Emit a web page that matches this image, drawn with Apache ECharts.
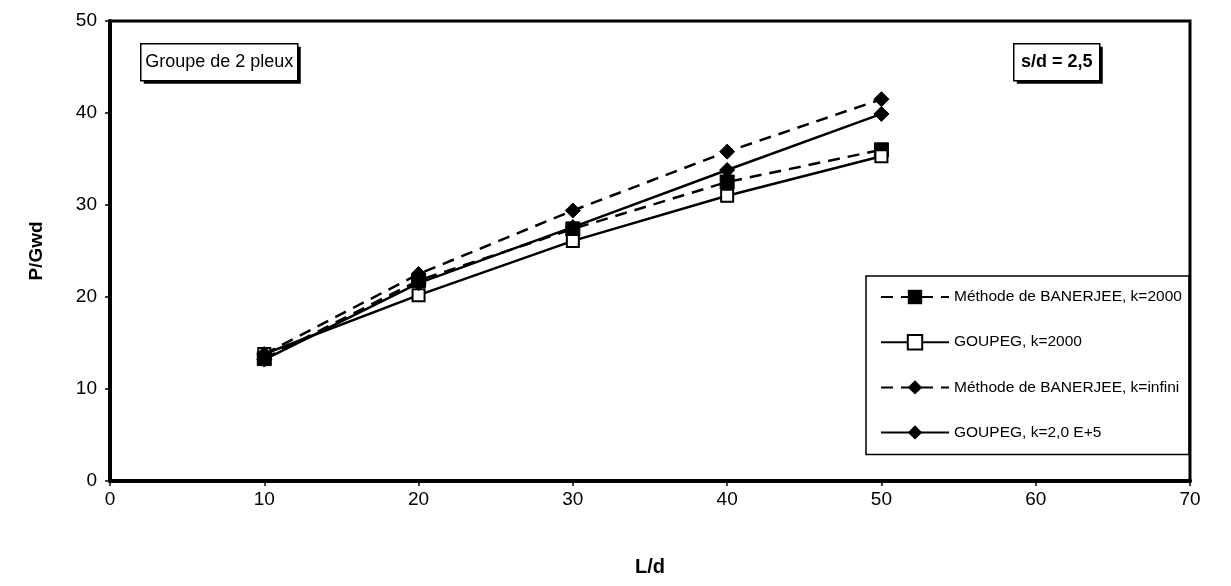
<!DOCTYPE html>
<html><head><meta charset="utf-8">
<script src="https://cdn.jsdelivr.net/npm/echarts@6/dist/echarts.min.js"></script>
<style>html,body{margin:0;padding:0;background:#fff}#c{width:1231px;height:586px}</style>
</head><body><div id="c"></div>
<script>
const xValues = [10, 20, 30, 40, 50];
const banerjee2000 = [13.3, 21.8, 27.4, 32.5, 36.0];
const goupeg2000 = [13.8, 20.2, 26.1, 31.0, 35.3];
const banerjeeInf = [13.8, 22.5, 29.4, 35.8, 41.5];
const goupeg2e5 = [13.2, 21.5, 27.6, 33.8, 39.9];
const seriesNames = ['Méthode de BANERJEE, k=2000', 'GOUPEG, k=2000', 'Méthode de BANERJEE, k=infini', 'GOUPEG, k=2,0 E+5'];
const xAxisName = 'L/d';
const yAxisName = 'P/Gwd';
const boxLeftText = 'Groupe de 2 pleux';
const boxRightText = 's/d = 2,5';

const FONT = '"Liberation Sans", Arial, sans-serif';
const pairs = v => xValues.map((x, i) => [x, v[i]]);
const dash = [12, 8];

function annotBox(x, y, w, h, text, bold) {
  return {
    type: 'group', left: x, top: y, children: [
      { type: 'rect', shape: { x: 3, y: 3, width: w, height: h }, style: { fill: '#000' } },
      { type: 'rect', shape: { x: 0, y: 0, width: w, height: h }, style: { fill: '#fff', stroke: '#000', lineWidth: 1.5 } },
      { type: 'text', x: w / 2, y: h / 2, style: { text: text, fill: '#000', align: 'center', verticalAlign: 'middle',
        font: (bold ? 'bold ' : '') + '18px ' + FONT } }
    ]
  };
}

const chart = echarts.init(document.getElementById('c'));
chart.setOption({
  animation: false,
  backgroundColor: '#fff',
  textStyle: { fontFamily: FONT, color: '#000' },
  graphic: [
    annotBox(140, 43, 157, 37, boxLeftText, false),
    annotBox(1013, 43, 86, 37, boxRightText, true)
  ],
  grid: { left: 110, right: 41, top: 21, bottom: 105, show: true, borderColor: '#000', borderWidth: 3 },
  legend: {
    orient: 'vertical', left: 866, top: 276, padding: [13, 7, 14, 14],
    itemWidth: 68, itemHeight: 18, itemGap: 29,
    borderColor: '#000', borderWidth: 1.5, backgroundColor: '#fff',
    textStyle: { fontFamily: FONT, fontSize: 15.5, color: '#000' },
    data: seriesNames
  },
  xAxis: {
    type: 'value', min: 0, max: 70, interval: 10,
    name: xAxisName, nameLocation: 'middle', nameGap: 76,
    nameTextStyle: { fontFamily: FONT, fontSize: 20, fontWeight: 'bold', color: '#000' },
    axisLine: { lineStyle: { color: '#000', width: 4 } },
    axisTick: { length: 5, lineStyle: { color: '#000', width: 1.5 } },
    axisLabel: { margin: 9, fontSize: 19, color: '#000', fontFamily: FONT },
    splitLine: { show: false }
  },
  yAxis: {
    type: 'value', min: 0, max: 50, interval: 10,
    name: yAxisName, nameLocation: 'middle', nameGap: 64, nameRotate: 90,
    nameTextStyle: { fontFamily: FONT, fontSize: 19, fontWeight: 'bold', color: '#000' },
    axisLine: { lineStyle: { color: '#000', width: 4 } },
    axisTick: { length: 5, lineStyle: { color: '#000', width: 1.5 } },
    axisLabel: { margin: 13, fontSize: 19, color: '#000', fontFamily: FONT },
    splitLine: { show: false }
  },
  series: [
    { name: seriesNames[0], type: 'line', data: pairs(banerjee2000),
      symbol: 'rect', symbolSize: 14,
      lineStyle: { color: '#000', width: 2.5, type: dash },
      itemStyle: { color: '#000', borderColor: '#000' } },
    { name: seriesNames[1], type: 'line', data: pairs(goupeg2000),
      symbol: 'rect', symbolSize: 12,
      lineStyle: { color: '#000', width: 2.5, type: 'solid' },
      itemStyle: { color: '#fff', borderColor: '#000', borderWidth: 2 } },
    { name: seriesNames[2], type: 'line', data: pairs(banerjeeInf),
      symbol: 'diamond', symbolSize: 15,
      lineStyle: { color: '#000', width: 2.5, type: dash },
      itemStyle: { color: '#000', borderColor: '#000' } },
    { name: seriesNames[3], type: 'line', data: pairs(goupeg2e5),
      symbol: 'diamond', symbolSize: 15,
      lineStyle: { color: '#000', width: 2.5, type: 'solid' },
      itemStyle: { color: '#000', borderColor: '#000' } }
  ]
});
</script></body></html>
